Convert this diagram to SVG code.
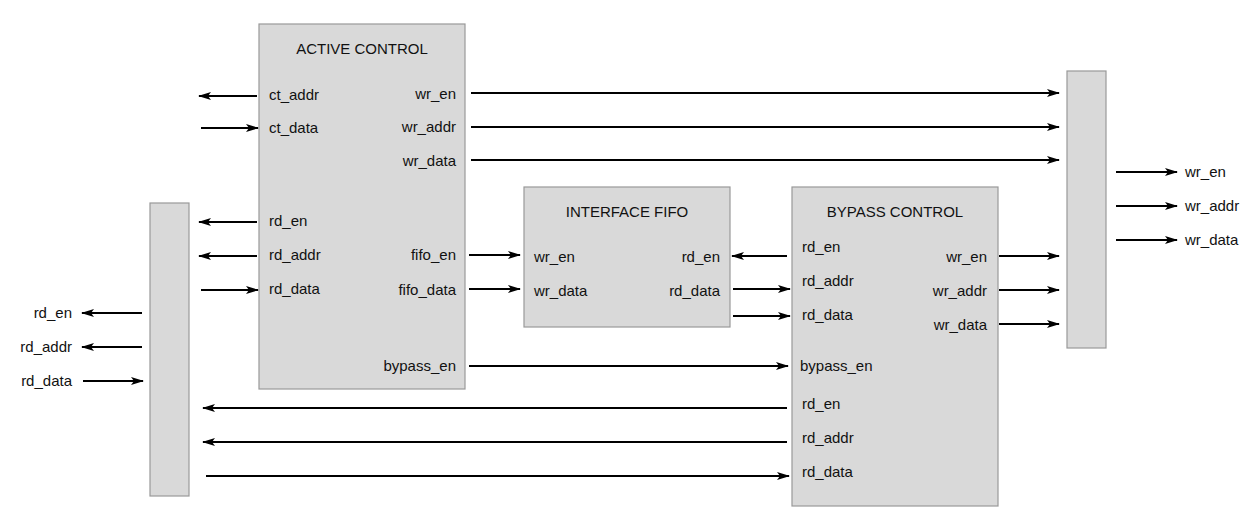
<svg xmlns="http://www.w3.org/2000/svg" width="1260" height="531" viewBox="0 0 1260 531">
<style>
.box{fill:#d9d9d9;stroke:#999999;stroke-width:1.2}
.t{font-family:"Liberation Sans",Arial,sans-serif;font-size:15px;fill:#111}
.m{text-anchor:middle}
.e{text-anchor:end}
.w{stroke:#000;stroke-width:2;fill:none;marker-end:url(#ah)}
</style>
<defs>
<marker id="ah" viewBox="0 0 13 8" refX="12" refY="4" markerWidth="13" markerHeight="8" markerUnits="userSpaceOnUse" orient="auto">
<path d="M0,0 L13,4 L0,8 L3,4 Z" fill="#000"/>
</marker>
</defs>
<rect width="1260" height="531" fill="#fff"/>

<g id="left-bus"><rect class="box" x="150" y="203" width="39" height="293"/></g>
<g id="right-bus"><rect class="box" x="1067" y="71" width="39" height="277"/></g>

<g id="active-control">
<rect class="box" x="259" y="24" width="206" height="365"/>
<text class="t m" x="362" y="54">ACTIVE CONTROL</text>
<text class="t" x="269" y="100">ct_addr</text>
<text class="t" x="269" y="133">ct_data</text>
<text class="t" x="269" y="226">rd_en</text>
<text class="t" x="269" y="260">rd_addr</text>
<text class="t" x="269" y="294">rd_data</text>
<text class="t e" x="456" y="99">wr_en</text>
<text class="t e" x="456" y="132">wr_addr</text>
<text class="t e" x="456" y="166">wr_data</text>
<text class="t e" x="456" y="260">fifo_en</text>
<text class="t e" x="456" y="295">fifo_data</text>
<text class="t e" x="456" y="371">bypass_en</text>
</g>

<g id="interface-fifo">
<rect class="box" x="524" y="187" width="206" height="140"/>
<text class="t m" x="627" y="217">INTERFACE FIFO</text>
<text class="t" x="534" y="262">wr_en</text>
<text class="t" x="534" y="296">wr_data</text>
<text class="t e" x="720" y="262">rd_en</text>
<text class="t e" x="720" y="296">rd_data</text>
</g>

<g id="bypass-control">
<rect class="box" x="792" y="187" width="206" height="319"/>
<text class="t m" x="895" y="217">BYPASS CONTROL</text>
<text class="t" x="802" y="252">rd_en</text>
<text class="t" x="802" y="286">rd_addr</text>
<text class="t" x="802" y="320">rd_data</text>
<text class="t" x="800" y="371">bypass_en</text>
<text class="t" x="802" y="409">rd_en</text>
<text class="t" x="802" y="443">rd_addr</text>
<text class="t" x="802" y="477">rd_data</text>
<text class="t e" x="987" y="262">wr_en</text>
<text class="t e" x="987" y="296">wr_addr</text>
<text class="t e" x="987" y="330">wr_data</text>
</g>

<g id="outer-labels">
<text class="t e" x="72" y="318">rd_en</text>
<text class="t e" x="72" y="352">rd_addr</text>
<text class="t e" x="72" y="386">rd_data</text>
<text class="t" x="1185" y="177">wr_en</text>
<text class="t" x="1185" y="211">wr_addr</text>
<text class="t" x="1185" y="245">wr_data</text>
</g>

<g id="connectors">
<line class="w" x1="257" y1="96" x2="199" y2="96"/>
<line class="w" x1="201" y1="128" x2="258" y2="128"/>
<line class="w" x1="471" y1="93" x2="1059" y2="93"/>
<line class="w" x1="471" y1="127" x2="1059" y2="127"/>
<line class="w" x1="471" y1="160" x2="1059" y2="160"/>
<line class="w" x1="257" y1="222" x2="199" y2="222"/>
<line class="w" x1="257" y1="256" x2="199" y2="256"/>
<line class="w" x1="201" y1="290" x2="258" y2="290"/>
<line class="w" x1="469" y1="255" x2="520" y2="255"/>
<line class="w" x1="469" y1="289" x2="520" y2="289"/>
<line class="w" x1="469" y1="366" x2="788" y2="366"/>
<line class="w" x1="787" y1="256" x2="732" y2="256"/>
<line class="w" x1="733" y1="289" x2="790" y2="289"/>
<line class="w" x1="733" y1="316" x2="790" y2="316"/>
<line class="w" x1="999" y1="256" x2="1059" y2="256"/>
<line class="w" x1="999" y1="290" x2="1059" y2="290"/>
<line class="w" x1="999" y1="324" x2="1059" y2="324"/>
<line class="w" x1="1116" y1="172" x2="1177" y2="172"/>
<line class="w" x1="1116" y1="206" x2="1177" y2="206"/>
<line class="w" x1="1116" y1="240" x2="1177" y2="240"/>
<line class="w" x1="787" y1="408" x2="203" y2="408"/>
<line class="w" x1="787" y1="442" x2="203" y2="442"/>
<line class="w" x1="206" y1="476" x2="789" y2="476"/>
<line class="w" x1="142" y1="313" x2="82" y2="313"/>
<line class="w" x1="142" y1="347" x2="82" y2="347"/>
<line class="w" x1="83" y1="381" x2="143" y2="381"/>
</g>
</svg>
